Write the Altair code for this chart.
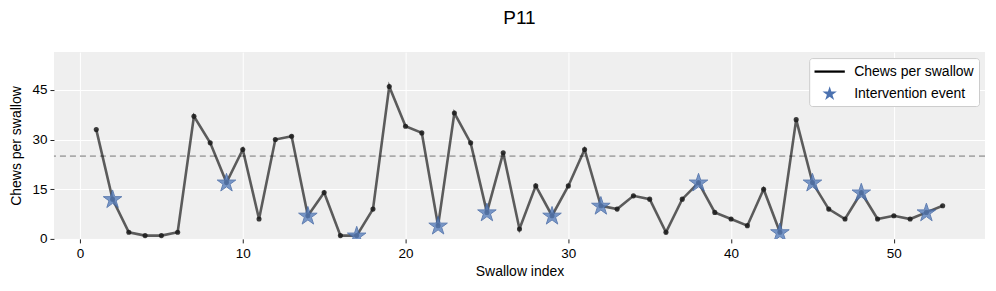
import math
import altair as alt
import pandas as pd

swallow_index = list(range(1, 54))
chews = [33, 12, 2, 1, 1, 2, 37, 29, 17, 27,
         6, 30, 31, 7, 14, 1, 1, 9, 46, 34,
         32, 4, 38, 29, 8, 26, 3, 16, 7, 16,
         27, 10, 9, 13, 12, 2, 12, 17, 8, 6,
         4, 15, 2, 36, 17, 9, 6, 14, 6, 7,
         6, 8, 10]
interventions = [2, 9, 14, 17, 22, 25, 29, 32, 38, 43, 45, 48, 52]
threshold = [25]
series_names = ["Chews per swallow", "Intervention event"]
x_ticks = [0, 10, 20, 30, 40, 50]
y_ticks = [0, 15, 30, 45]

df = pd.DataFrame({"idx": swallow_index, "chews": chews})
df_int = df[df["idx"].isin(interventions)].reset_index(drop=True)
df_thr = pd.DataFrame({"thr": threshold})
df_leg = pd.DataFrame({"series": series_names,
                       "idx": [swallow_index[0]] * 2,
                       "chews": [chews[0]] * 2})

# five-pointed star symbol path (unit box [-1, 1])
_pts = []
for k in range(10):
    r = 1.0 if k % 2 == 0 else 0.382
    a = math.radians(-90 + 36 * k)
    _pts.append(f"{r * math.cos(a):.4f},{r * math.sin(a) + 0.05:.4f}")
STAR = "M" + "L".join(_pts) + "Z"
BAR = "M-2.0,-0.15L2.0,-0.15L2.0,0.15L-2.0,0.15Z"

FONT = "Liberation Sans"
xs = alt.Scale(domain=[-1.6, 55.6], nice=False, zero=False)
ys = alt.Scale(domain=[0, 56.4], nice=False, zero=False)

x_enc = alt.X("idx:Q", scale=xs,
              axis=alt.Axis(values=x_ticks, title="Swallow index", format="d"))
y_enc = alt.Y("chews:Q", scale=ys,
              axis=alt.Axis(values=y_ticks, title="Chews per swallow", format="d"))

thr_rule = alt.Chart(df_thr).mark_rule(
    color="#aaaaaa", strokeWidth=1.6, strokeDash=[6, 4]
).encode(y=alt.Y("thr:Q", scale=ys))

line = alt.Chart(df).mark_line(
    color="#000000", opacity=0.62, strokeWidth=2.6, clip=True
).encode(x=x_enc, y=y_enc)

pts = alt.Chart(df).mark_circle(
    color="#1a1a1a", opacity=0.85, size=26, clip=True
).encode(x=x_enc, y=y_enc)

stars = alt.Chart(df_int).mark_point(
    shape=STAR, filled=True, color="#5a80bd", opacity=0.8, size=380,
    stroke="#3e63a3", strokeWidth=1, clip=True
).encode(x=x_enc, y=y_enc)

legend_layer = alt.Chart(df_leg).mark_point(filled=True, size=10).encode(
    x=alt.X("idx:Q", scale=xs),
    y=alt.Y("chews:Q", scale=ys),
    opacity=alt.value(0),
    color=alt.Color("series:N",
                    scale=alt.Scale(domain=series_names, range=["#000000", "#4c72b0"]),
                    legend=alt.Legend(
                        title=None, orient="top-right", offset=6,
                        fillColor="#ffffff", strokeColor="#cccccc",
                        cornerRadius=3, padding=5, rowPadding=6,
                        labelFontSize=14, labelFont=FONT, labelColor="#000000",
                        symbolOpacity=1, symbolSize=230, symbolOffset=7,
                        labelOffset=16)),
    shape=alt.Shape("series:N",
                    scale=alt.Scale(domain=series_names, range=[BAR, STAR]),
                    legend=None),
)

chart = alt.layer(thr_rule, line, pts, stars, legend_layer).properties(
    width=932, height=187,
    title=alt.TitleParams("P11", fontSize=19, font=FONT, fontWeight="normal",
                          color="#000000", anchor="middle", offset=24),
    autosize=alt.AutoSizeParams(type="none"),
    padding={"left": 46, "top": 44, "right": 3, "bottom": 44},
).configure_view(
    fill="#efefef", stroke=None
).configure_axis(
    grid=True, gridColor="#ffffff", gridWidth=1, domain=False,
    tickColor="#222222", tickSize=4, tickWidth=1,
    labelFont=FONT, labelFontSize=13.5, labelColor="#000000", labelPadding=3,
    titleFont=FONT, titleFontSize=14, titleFontWeight="normal", titleColor="#000000",
).configure_axisX(titlePadding=4, labelPadding=4).configure_axisY(titlePadding=8)

chart.save("out.html", embed_options={"renderer": "svg", "actions": False})
